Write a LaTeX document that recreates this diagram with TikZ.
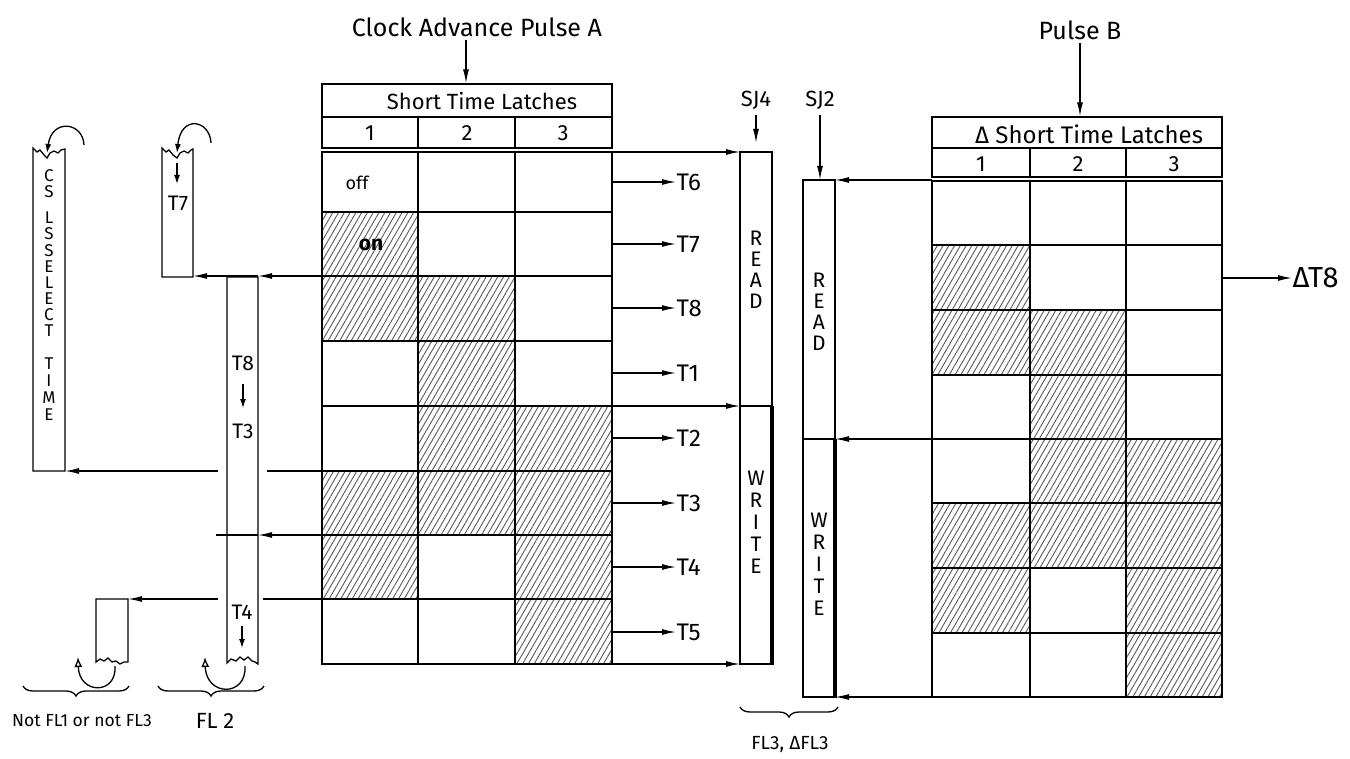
\documentclass[tikz,border=0pt]{standalone}
\usepackage{fontspec}
\setmainfont{Fira Sans}
\usetikzlibrary{arrows.meta,patterns.meta,decorations.pathreplacing}
\begin{document}
\begin{tikzpicture}[x=1pt,y=-1pt,line width=1.3pt,
  arr/.style={-{Latex[length=14pt,width=6pt]}},
  sarr/.style={-{Latex[length=9pt,width=6pt]}},
  oarr/.style={-{Latex[open,length=10pt,width=8pt]}},
  txt/.style={inner sep=0pt,font=\fontsize{22}{24}\selectfont},
  tl/.style={inner sep=0pt,anchor=west,font=\fontsize{24}{26}\selectfont},
  vl/.style={inner sep=0pt,font=\fontsize{21}{22}\selectfont},
  sl/.style={inner sep=0pt,font=\fontsize{17}{18}\selectfont},
  bl/.style={inner sep=0pt,font=\fontsize{21}{22}\selectfont},
  hatch/.style={pattern={Lines[angle=60,distance=5pt,line width=0.9pt]},pattern color=black!65},
  thickline/.style={line width=4pt},
  gridline/.style={line width=1.1pt},
  bracedec/.style={decorate,decoration={brace,amplitude=10pt,mirror}}]
\useasboundingbox (0,0) rectangle (1350,759);
\fill[white] (0,0) rectangle (1350,759);

% ---------- shading ----------
\foreach \xa/\ya/\xb/\yb in {322/212/418/276, 322/276/515/341, 418/341/515/406, 418/406/612/471, 322/471/612/535, 322/535/418/599, 515/535/612/599, 515/599/612/664}
  \path[hatch] (\xa,\ya) rectangle (\xb,\yb);
\foreach \xa/\ya/\xb/\yb in {932/245/1030/310, 932/310/1126/375, 1030/375/1126/439, 1030/439/1222/503, 932/503/1222/568, 932/568/1030/633, 1126/568/1222/633, 1126/633/1222/697}
  \path[hatch] (\xa,\ya) rectangle (\xb,\yb);

% ---------- left latch table ----------
\node[draw,minimum width=290pt,minimum height=33pt,inner sep=0pt] (hdrA) at (467,100.5) {};
\node[txt] (hdrAt) at (482,101) {Short Time Latches};
\draw (322,117) rectangle (612,148);
\draw (418,117) -- (418,148) (515,117) -- (515,148);
\node[txt] (nA1) at (370,133) {1};
\node[txt] (nA2) at (467,133) {2};
\node[txt] (nA3) at (563,133) {3};
\draw[gridline] (322,152) rectangle (612,664);
\draw[gridline] (418,152) -- (418,664) (515,152) -- (515,664);
\foreach \y in {212,276,341,406,471,535,599}
  \draw[gridline] (322,\y) -- (612,\y);
\node[inner sep=0pt,font=\fontsize{18}{20}\selectfont] (off) at (357,183) {off};
\node[inner sep=0pt,font=\fontsize{21}{22}\selectfont\bfseries] (on) at (371,245) {on};

\node[txt,font=\fontsize{25}{27}\selectfont] (capA) at (477,27) {Clock Advance Pulse A};
\coordinate (capAs) at (466,40);
\draw[arr] (capAs) -- (hdrA.north -| capAs);

\foreach \lab/\y [count=\i] in {T6/182,T7/244,T8/308,T1/373,T2/438,T3/503,T4/567,T5/632}{
  \coordinate (gA\i) at (612,\y);
  \node[tl] (tA\i) at (676,\y) {\lab};
  \draw[arr] (gA\i) -- (tA\i.west);
}

% ---------- SJ4 box ----------
\coordinate (sj4tl) at (740,152);
\coordinate (sj4ml) at (740,406);
\coordinate (sj4bl) at (740,664);
\draw (740,152) rectangle (772,664);
\draw (740,406) -- (772,406);
\draw[thickline] (772,406) -- (772,665);
\coordinate (gAtop) at (612,152);
\coordinate (gAmid) at (612,406);
\coordinate (gAbot) at (612,664);
\draw[arr] (gAtop) -- (sj4tl);
\draw[arr] (gAmid) -- (sj4ml);
\draw[arr] (gAbot) -- (sj4bl);
\node[txt] (sj4) at (756,100) {SJ4};
\coordinate (sj4a) at (756,115);
\draw[arr] (sj4a) -- (756,143);
\foreach \l/\y [count=\i] in {R/238,E/259,A/280,D/301}
  \node[vl] (r4\i) at (756,\y) {\l};
\foreach \l/\y [count=\i] in {W/478,R/500,I/522,T/544,E/566}
  \node[vl] (w4\i) at (756,\y) {\l};

% ---------- SJ2 box ----------
\draw (803,180) rectangle (835,697);
\draw (803,439) -- (835,439);
\draw[thickline] (835,439) -- (835,698);
\coordinate (sj2tr) at (835,180);
\coordinate (sj2mr) at (835,439);
\coordinate (sj2br) at (835,697);
\node[txt] (sj2) at (820,100) {SJ2};
\coordinate (sj2a) at (820,115);
\draw[arr] (sj2a) -- (820,180);
\foreach \l/\y [count=\i] in {R/280,E/301,A/322,D/343}
  \node[vl] (r2\i) at (819,\y) {\l};
\foreach \l/\y [count=\i] in {W/520,R/542,I/564,T/586,E/608}
  \node[vl] (w2\i) at (819,\y) {\l};

\draw[bracedec] (740,707) -- (838,707);
\node[txt,font=\fontsize{19}{20}\selectfont] (fl3) at (790,745) {FL3, ΔFL3};

% ---------- right latch table ----------
\node[draw,minimum width=290pt,minimum height=31pt,inner sep=0pt] (hdrB) at (1077,132.5) {};
\node[txt,font=\fontsize{24}{26}\selectfont] (hdrBt) at (1089,134) {Δ Short Time Latches};
\draw (932,148) rectangle (1222,177);
\draw (1030,148) -- (1030,177) (1126,148) -- (1126,177);
\node[txt] (nB1) at (981,164) {1};
\node[txt] (nB2) at (1078,164) {2};
\node[txt] (nB3) at (1174,164) {3};
\draw[gridline] (932,181) rectangle (1222,697);
\draw[gridline] (1030,181) -- (1030,697) (1126,181) -- (1126,697);
\foreach \y in {245,310,375,439,503,568,633}
  \draw[gridline] (932,\y) -- (1222,\y);
\coordinate (gBtop) at (932,180);
\coordinate (gBmid) at (932,439);
\coordinate (gBbot) at (932,697);
\draw[arr] (gBtop) -- (sj2tr);
\draw[arr] (gBmid) -- (sj2mr);
\draw[arr] (gBbot) -- (sj2br);

\node[txt,font=\fontsize{25}{27}\selectfont] (pb) at (1080,30) {Pulse B};
\coordinate (pbs) at (1080,43);
\draw[arr] (pbs) -- (hdrB.north -| pbs);

\coordinate (gBr) at (1222,278);
\node[inner sep=0pt,anchor=west,font=\fontsize{29}{31}\selectfont] (dt8) at (1292,278) {ΔT8};
\draw[arr] (gBr) -- (dt8.west);

% ---------- left side boxes ----------
% CS LS SELECT TIME
\draw (33,148) -- (37,152) -- (40,150) -- (44,155) -- (47,158) -- (50,153) -- (54,151) -- (58,153) -- (61,150) -- (65,149)
      -- (65,471) -- (33,471) -- cycle;
\foreach \l/\y [count=\i] in {C/176,S/192,L/218,S/234,S/251,E/267,L/283,E/299,C/315,T/331,T/364,I/381,M/398,E/415}
  \node[sl] (cs\i) at (49,\y) {\l};
\coordinate (csa1) at (84,145);
\coordinate (csa2) at (47,153);
\draw[sarr] (csa1) .. controls (83,122) and (52,118) .. (csa2);

% T7 box
\draw (162,148) -- (166,152) -- (169,150) -- (173,155) -- (177,158) -- (180,153) -- (184,151) -- (188,153) -- (191,150) -- (193,149)
      -- (193,277) -- (162,277) -- cycle;
\coordinate (t7a1) at (211,143);
\coordinate (t7a2) at (177,153);
\draw[sarr] (t7a1) .. controls (210,120) and (181,114) .. (t7a2);
\coordinate (t7d1) at (177,163);
\coordinate (t7d2) at (177,184);
\draw[sarr] (t7d1) -- (t7d2);
\node[bl] (t7lab) at (178,203) {T7};

% T8 -> T3 box
\draw (227,663) -- (227,277) -- (258,277) -- (258,664) -- (255,662) -- (252,661) -- (248,657) -- (244,660) -- (240,657) -- (236,661) -- (231,659) -- cycle;
\node[bl] (t8lab) at (243,363) {T8};
\coordinate (t8d1) at (243,384);
\coordinate (t8d2) at (243,408);
\draw[sarr] (t8d1) -- (t8d2);
\node[bl] (t3lab) at (243,431) {T3};
\node[bl] (t4lab) at (242,612) {T4};
\coordinate (t4d1) at (242,626);
\coordinate (t4d2) at (242,648);
\draw[sarr] (t4d1) -- (t4d2);
\coordinate (fa1) at (245,666);
\coordinate (fa2) at (205,657);
\draw[oarr] (fa1) .. controls (247,697) and (206,697) .. (fa2);

% Not FL1 box
\draw (128,662) -- (128,599) -- (96,599) -- (96,662) -- (100,659) -- (104,661) -- (108,658) -- (112,662) -- (116,661) -- (120,664) -- (124,662) -- cycle;
\coordinate (na1) at (115,666);
\coordinate (na2) at (78,657);
\draw[oarr] (na1) .. controls (117,695) and (79,695) .. (na2);

% connectors from left grid
\coordinate (gL3) at (322,276);
\coordinate (t8tr) at (258,276);
\coordinate (t7br) at (193,276);
\draw[arr] (gL3) -- (t8tr);
\draw[arr] (t8tr) -- (t7br);

\coordinate (gL6) at (322,471);
\coordinate (gap6a) at (267,471);
\coordinate (gap6b) at (218,471);
\coordinate (csbr) at (65,471);
\draw (gL6) -- (gap6a);
\draw[arr] (gap6b) -- (csbr);

\coordinate (gL7) at (322,535);
\coordinate (t8r7) at (258,535);
\coordinate (end7) at (216,535);
\draw[arr] (gL7) -- (t8r7);
\draw (t8r7) -- (end7);

\coordinate (gL8) at (322,599);
\coordinate (gap8a) at (263,599);
\coordinate (gap8b) at (218,599);
\coordinate (nftr) at (128,599);
\draw (gL8) -- (gap8a);
\draw[arr] (gap8b) -- (nftr);

% braces
\draw[bracedec] (23,686) -- (129,686);
\node[inner sep=0pt,font=\fontsize{17.5}{19}\selectfont] (nfl) at (82,721) {Not FL1 or not FL3};
\draw[bracedec] (158,686) -- (264,686);
\node[inner sep=0pt,font=\fontsize{22}{24}\selectfont] (fl2) at (215,721) {FL 2};
\end{tikzpicture}
\end{document}
